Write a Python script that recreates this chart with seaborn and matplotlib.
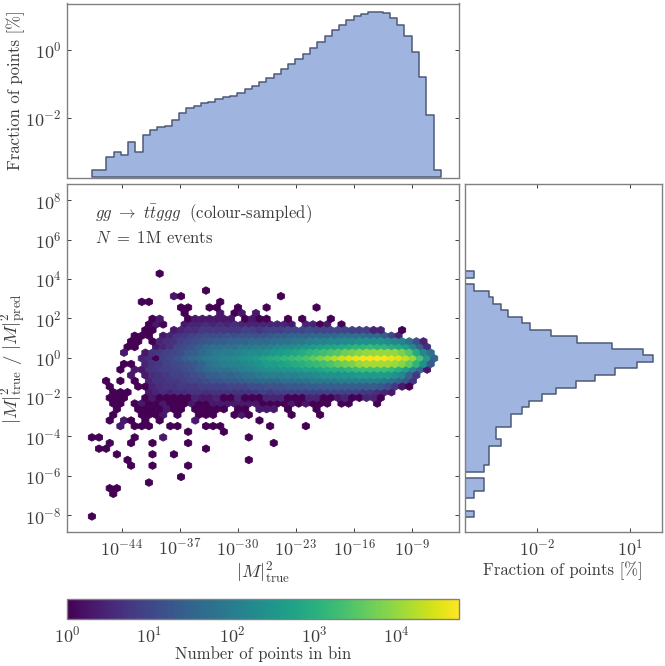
import numpy as np
import matplotlib
matplotlib.use("Agg")
import matplotlib.pyplot as plt
import seaborn as sns
from matplotlib.colors import LogNorm
from matplotlib.ticker import LogFormatterMathtext, NullLocator

sns.set_style("white")
plt.rcParams["mathtext.fontset"] = "cm"
plt.rcParams["font.family"] = ["cmr10"]
plt.rcParams["axes.formatter.use_mathtext"] = True
TEXT = "#3c3c3c"
plt.rcParams["text.color"] = TEXT
plt.rcParams["axes.labelcolor"] = TEXT
plt.rcParams["xtick.color"] = TEXT
plt.rcParams["ytick.color"] = TEXT

# top histogram: fraction of points [%] per bin of log10 |M|^2_true
top_pct = [0.0003, 0.0003, 0.00069, 0.00101, 0.00079, 0.0019, 0.00099, 0.00304,
           0.00436, 0.00545, 0.0057, 0.00855, 0.0143, 0.0192, 0.023, 0.0269,
           0.0301, 0.036, 0.0412, 0.044, 0.054, 0.0706, 0.0864, 0.1157,
           0.151, 0.198, 0.266, 0.372, 0.533, 0.764, 1.145, 1.71,
           2.57, 3.68, 5.39, 7.22, 9.46, 11.3, 12.7, 12.9,
           11.6, 8.64, 5.39, 2.57, 0.836, 0.158, 0.0125, 0.0003]
top_range = (-47.6, -5.52)

# right histogram, listed from the lowest ratio bin to the highest
right_pct = [0.0001, 0, 0, 0.0001, 0.0002, 0.0002, 0, 0.0002,
             0.0003, 0.0003, 0.0003, 0.0007, 0.0005, 0.0005, 0.00154, 0.00154,
             0.00346, 0.0057, 0.0145, 0.0428, 0.175, 0.714, 3.24, 16.4,
             53.7, 25.7, 2.64, 0.194, 0.0296, 0.0063, 0.00346, 0.00117,
             0.0007, 0.0004, 0.0003, 0.0001, 0, 0.0001]
right_range = (-8.10, 4.38)

# hexbin lattice: row i sits at y0 + i*sy/2, odd rows are shifted by sx/2
x0, sx, n_cols = -47.6, 0.86, 49
y0, sy, n_rows = -8.07, 0.574, 22

# bins holding a single point (lattice row, lattice column)
single_row = [0, 4, 5, 5, 6, 7, 9, 9, 9, 10, 10, 11, 11, 11, 12, 12, 12, 13, 13, 13, 13, 13,
              14, 14, 14, 14, 15, 15, 16, 16, 16, 16, 16, 16, 16, 16, 16, 16,
              17, 17, 17, 17, 17, 18, 18, 18, 18, 18, 18, 18, 18, 18, 18, 18, 18,
              19, 19, 19, 19, 19, 19, 19, 19, 19, 19, 19, 19, 19, 19, 19, 19,
              36, 36, 37, 37, 37, 37, 37, 37, 37, 38, 38, 38, 39, 39, 40, 43, 33]
single_col = [0, 3, 2, 3, 8, 12, 5, 8, 13, 5, 22, 3, 8, 11, 1, 2, 16, 2, 5, 8, 13, 25,
              0, 1, 6, 22, 13, 18, 6, 7, 8, 11, 12, 16, 17, 18, 25, 30,
              2, 5, 7, 9, 23, 3, 7, 8, 9, 12, 16, 17, 20, 22, 28, 32, 15,
              3, 6, 7, 8, 9, 11, 12, 14, 15, 16, 17, 18, 20, 21, 27, 31,
              13, 20, 12, 13, 16, 17, 20, 24, 31, 7, 8, 18, 12, 26, 16, 9, 43]

# bins with two or three points, same layout
few_row = [14, 16, 17, 17, 18, 18, 19, 19, 19, 19, 36, 36, 36, 39]
few_col = [10, 4, 4, 14, 10, 21, 10, 23, 24, 25, 18, 21, 23, 11]

core_row = list(range(20, 36))
core_first = [3, 2, 3, 2, 2, 5, 4, 4, 7, 4, 5, 5, 6, 7, 8, 8]
core_levels = [
    [0, 0, -1, 0, 2, 0, 0, 3, 0, 0, 0, 2, 0, 0, 2, 3, 2, 3, 3, 2, 3, 0, 0, 1, 0, 3, 0, 2, 0, 0, 0, -1, 0, 0, -1, -1, -1, 0],
    [0, 0, 0, -1, -1, 0, 3, 0, 0, 0, 0, 0, 4, 3, 3, 4, 0, 0, 4, 0, 0, 0, 5, 5, 4, 0, 0, 0, 5, 5, 0, 0, 3, 5, 0, 0, 5, 4, 0],
    [0, 0, 0, -1, -1, 3, 5, 6, 5, 6, 6, 7, 7, 6, 7, 7, 7, 7, 7, 7, 8, 9, 8, 9, 9, 9, 9, 9, 9, 9, 9, 9, 9, 9, 9, 8, 8, 6, 5, 3],
    [0, -1, -1, -1, 0, 0, 5, 6, 7, 7, 8, 8, 8, 9, 9, 9, 9, 10, 10, 10, 11, 11, 12, 12, 12, 13, 13, 13, 14, 14, 14, 14, 14, 14, 14, 14, 14, 14, 13, 11, 8, 2, 0],
    [0, -1, 0, -1, 0, -1, 4, 7, 7, 8, 8, 9, 10, 10, 11, 12, 12, 13, 13, 14, 15, 15, 16, 16, 16, 17, 17, 18, 18, 19, 19, 19, 19, 20, 20, 20, 20, 20, 20, 19, 17, 15, 12, 7],
    [3, -1, 2, 6, 7, 8, 9, 9, 10, 11, 12, 14, 14, 15, 15, 16, 17, 18, 19, 20, 20, 20, 21, 21, 22, 22, 23, 24, 24, 24, 25, 25, 26, 26, 26, 26, 26, 24, 22, 15, 8],
    [0, -1, 3, 2, 7, 8, 9, 9, 10, 11, 12, 14, 16, 17, 18, 18, 19, 20, 21, 22, 23, 24, 24, 25, 25, 26, 27, 27, 28, 29, 30, 30, 31, 32, 33, 33, 33, 33, 32, 30, 27, 22, 16, 3],
    [0, 0, -1, 4, 7, 8, 9, 10, 11, 12, 13, 15, 18, 19, 20, 21, 21, 22, 23, 24, 26, 26, 27, 28, 29, 30, 31, 32, 33, 34, 36, 37, 38, 40, 41, 41, 41, 41, 40, 39, 36, 31, 24, 13],
    [4, 6, 0, 9, 10, 12, 14, 16, 17, 19, 20, 21, 22, 23, 24, 25, 26, 28, 29, 30, 31, 32, 33, 34, 36, 38, 40, 42, 44, 45, 46, 47, 47, 47, 47, 46, 45, 43, 40, 34, 26, 15],
    [3, -1, -1, 2, 7, 8, 9, 10, 11, 13, 14, 16, 18, 19, 20, 20, 21, 22, 23, 23, 24, 25, 26, 27, 28, 29, 31, 32, 33, 34, 35, 37, 38, 39, 40, 40, 40, 40, 40, 38, 35, 29, 22, 17],
    [0, 0, -1, -1, 2, 5, 7, 10, 11, 12, 14, 16, 17, 17, 18, 18, 19, 19, 20, 20, 21, 22, 23, 23, 24, 25, 26, 27, 28, 28, 29, 30, 31, 31, 32, 31, 31, 30, 29, 27, 22, 15, 6],
    [0, 0, -1, 0, 5, 6, 7, 9, 10, 11, 12, 13, 14, 14, 15, 15, 15, 16, 16, 16, 17, 18, 18, 19, 19, 20, 21, 21, 22, 22, 23, 23, 24, 24, 24, 24, 23, 22, 21, 18, 12, 4],
    [0, 0, 0, -1, 3, 5, 7, 8, 9, 10, 11, 11, 11, 12, 11, 12, 12, 12, 12, 13, 14, 14, 15, 15, 15, 16, 16, 16, 16, 17, 17, 17, 17, 16, 16, 14, 10, 4],
    [0, 0, -1, -1, 3, 5, 6, 6, 8, 8, 8, 8, 8, 8, 9, 9, 8, 9, 9, 9, 10, 10, 10, 11, 10, 10, 10, 10, 10, 9, 9, 9, 4, 5],
    [0, 2, 0, -1, -1, 3, 5, 4, 6, 5, 6, 5, 6, 5, 5, 5, 5, 5, 5, 4, 3, -1, 4, 4, 0, 3, -1, 0],
    [0, 3, -1, -1, -1, 0, 2, 3, 2, 3, 2, 3, -1, 0, 3, 0, 0, -1, -1, 0, -1, 0, -1, -1, -1, 0],
]

# tick positions and texts
main_xtick_exp = [-44, -37, -30, -23, -16, -9]
main_ytick_exp = [-8, -6, -4, -2, 0, 2, 4, 6, 8]
top_ytick_exp = [-2, 0]
right_xtick_exp = [-2, 1]
cbar_max = 57000

x_label = r"$|M|^2_{\mathrm{true}}$"
y_label = r"$|M|^2_{\mathrm{true}}\ /\ |M|^2_{\mathrm{pred}}$"
frac_label = "Fraction of points [%]"
cbar_label = "Number of points in bin"
line1 = r"$gg\ \to\ t\bar{t}ggg\ $ (colour-sampled)"
line2 = r"$N\ =\ 1$M events"

FILL = "#a0b4e0"
EDGE = "#4d5a78"
SPINE = "#808080"
FS = 12.0
TICK_FS = 13.0

W, H = 665, 666
fig = plt.figure(figsize=(W / 100, H / 100), dpi=100)


def box(x1, y1, x2, y2):
    return [x1 / W, 1 - y2 / H, (x2 - x1) / W, (y2 - y1) / H]


ax_top = fig.add_axes(box(67, 3.5, 459, 177.5))
ax_main = fig.add_axes(box(67, 184.5, 459, 532))
ax_right = fig.add_axes(box(465, 184.5, 661.5, 532))
cax = fig.add_axes(box(67, 598.5, 459, 619))

# collect lattice rows into x, y, count
lat_i, lat_j, counts = [], [], []
for i, j in zip(single_row, single_col):
    lat_i.append(i); lat_j.append(j); counts.append(1)
for i, j in zip(few_row, few_col):
    lat_i.append(i); lat_j.append(j); counts.append(2)
for i, first, levels in zip(core_row, core_first, core_levels):
    for k, lev in enumerate(levels):
        if lev >= 0:
            lat_i.append(i); lat_j.append(first + k); counts.append(round(10 ** (lev / 10)))
lat_i = np.array(lat_i)
lat_j = np.array(lat_j)
hex_x = x0 + (lat_j + 0.5 * (lat_i % 2)) * sx
hex_y = y0 + lat_i * sy / 2

hb = ax_main.hexbin(10.0 ** hex_x, 10.0 ** hex_y, C=np.array(counts, dtype=float),
                    reduce_C_function=np.sum, gridsize=(n_cols, n_rows),
                    extent=(x0, x0 + n_cols * sx, y0, y0 + n_rows * sy),
                    xscale="log", yscale="log", cmap="viridis",
                    norm=LogNorm(1, cbar_max), linewidths=0.6, edgecolors="face")
ax_main.set_xlim(10.0 ** -50.6, 10.0 ** -3.33)
ax_main.set_ylim(10.0 ** -8.86, 10.0 ** 8.8)
ax_main.set_xticks(10.0 ** np.array(main_xtick_exp, dtype=float))
ax_main.set_yticks(10.0 ** np.array(main_ytick_exp, dtype=float))
ax_main.xaxis.set_minor_locator(NullLocator())
ax_main.yaxis.set_minor_locator(NullLocator())
ax_main.xaxis.set_major_formatter(LogFormatterMathtext())
ax_main.yaxis.set_major_formatter(LogFormatterMathtext())
ax_main.set_xlabel(x_label, fontsize=13.5, labelpad=1)
ax_main.set_ylabel(y_label, fontsize=13.5)
ax_main.yaxis.set_label_coords(-0.1, 0.5)
fig.text(95 / W, 1 - 214 / H, line1, fontsize=FS, va="center")
fig.text(95 / W, 1 - 238 / H, line2, fontsize=FS, va="center")


def close_polys(ax, floor):
    # seaborn fills down to 0, which a log axis cannot place
    for coll in ax.collections:
        for path in coll.get_paths():
            path.vertices[:, floor[0]] = np.maximum(path.vertices[:, floor[0]], floor[1])


# marginals
top_edges = np.linspace(top_range[0], top_range[1], len(top_pct) + 1)
top_centres = 10.0 ** ((top_edges[:-1] + top_edges[1:]) / 2)
sns.histplot(x=top_centres, weights=top_pct, bins=len(top_pct), binrange=top_range,
             log_scale=(True, True), element="step", ax=ax_top,
             color=FILL, edgecolor=EDGE, alpha=1, linewidth=1.1)
close_polys(ax_top, (1, 10.0 ** -3.75))
ax_top.set_xlim(ax_main.get_xlim())
ax_top.set_ylim(10.0 ** -3.75, 10.0 ** 1.355)
ax_top.set_yticks(10.0 ** np.array(top_ytick_exp, dtype=float))
ax_top.yaxis.set_minor_locator(NullLocator())
ax_top.xaxis.set_minor_locator(NullLocator())
ax_top.set_xticks([])
ax_top.yaxis.set_major_formatter(LogFormatterMathtext())
ax_top.set_xlabel("")
ax_top.set_ylabel(frac_label, fontsize=FS)
ax_top.yaxis.set_label_coords(-0.108, 0.5)

right_edges = np.linspace(right_range[0], right_range[1], len(right_pct) + 1)
right_centres = 10.0 ** ((right_edges[:-1] + right_edges[1:]) / 2)
sns.histplot(y=right_centres, weights=right_pct, bins=len(right_pct), binrange=right_range,
             log_scale=(True, True), element="step", ax=ax_right,
             color=FILL, edgecolor=EDGE, alpha=1, linewidth=1.1)
close_polys(ax_right, (0, 10.0 ** -5))
ax_right.set_ylim(ax_main.get_ylim())
ax_right.set_xlim(10.0 ** -4.3, 10.0 ** 2.0)
ax_right.set_xticks(10.0 ** np.array(right_xtick_exp, dtype=float))
ax_right.xaxis.set_minor_locator(NullLocator())
ax_right.yaxis.set_minor_locator(NullLocator())
ax_right.set_yticks([])
ax_right.xaxis.set_major_formatter(LogFormatterMathtext())
ax_right.set_ylabel("")
ax_right.set_xlabel(frac_label, fontsize=FS, labelpad=2)

for ax in (ax_top, ax_main, ax_right):
    ax.tick_params(which="major", direction="in", length=3, width=0.7,
                   top=ax is not ax_top, right=ax is not ax_right,
                   bottom=ax is not ax_top, left=ax is not ax_right, labelsize=TICK_FS, pad=4)
    for s in ax.spines.values():
        s.set_color(SPINE)
        s.set_linewidth(1.0)

cbar = fig.colorbar(hb, cax=cax, orientation="horizontal")
cbar.set_label(cbar_label, fontsize=FS, labelpad=1)
cbar.ax.tick_params(which="major", direction="in", length=3, width=0.7, labelsize=TICK_FS, pad=4)
cbar.ax.tick_params(which="minor", direction="in", length=1.5, width=0.6)
cbar.outline.set_edgecolor(SPINE)
cbar.outline.set_linewidth(1.0)

fig.savefig("out.png", dpi=100)
